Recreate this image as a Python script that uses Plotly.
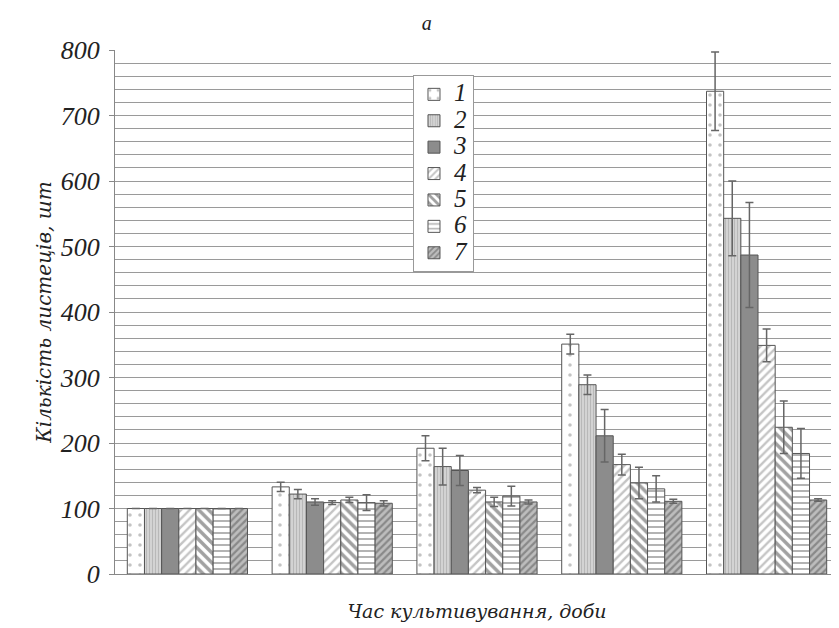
import plotly.graph_objects as go

categories = ["1", "2", "3", "4", "5"]
series_names = ["1", "2", "3", "4", "5", "6", "7"]

# values per series across the 5 time points
s1 = [100, 133, 192, 351, 737]
s2 = [100, 122, 164, 289, 543]
s3 = [100, 110, 158, 211, 487]
s4 = [100, 109, 128, 167, 349]
s5 = [100, 113, 110, 139, 224]
s6 = [100, 109, 119, 130, 184]
s7 = [100, 108, 110, 111, 113]

e1 = [0, 7, 19, 15, 60]
e2 = [0, 7, 28, 15, 57]
e3 = [0, 5, 23, 40, 80]
e4 = [0, 3, 4, 16, 25]
e5 = [0, 4, 7, 24, 40]
e6 = [0, 12, 15, 20, 38]
e7 = [0, 4, 3, 3, 2]

values = [s1, s2, s3, s4, s5, s6, s7]
errors = [e1, e2, e3, e4, e5, e6, e7]

styles = [
    dict(shape=".", bgcolor="white", fgcolor="#888", size=10, solidity=0.1),
    dict(shape="|", bgcolor="#d6d6d6", fgcolor="#9a9a9a", size=3, solidity=0.4),
    dict(shape="", bgcolor="#8c8c8c", fgcolor="#8c8c8c", size=6, solidity=0.5),
    dict(shape="/", bgcolor="white", fgcolor="#8a8a8a", size=6, solidity=0.4),
    dict(shape="\\", bgcolor="white", fgcolor="#444", size=7, solidity=0.5),
    dict(shape="-", bgcolor="white", fgcolor="#555", size=6, solidity=0.3),
    dict(shape="/", bgcolor="#bdbdbd", fgcolor="#555", size=5, solidity=0.45),
]
fills = ["white", "#d6d6d6", "#8c8c8c", "white", "white", "white", "#bdbdbd"]

fig = go.Figure()
for name, v, e, st, fc in zip(series_names, values, errors, styles, fills):
    fig.add_trace(go.Bar(
        x=categories, y=v,
        name='<span style="font-size:25px">' + name + '</span>',
        marker=dict(color=fc, line=dict(color="#555", width=1), pattern=st),
        error_y=dict(type="data", array=e, visible=True, color="#666", thickness=1.5, width=4),
    ))

serif = "Liberation Serif"
cursive = "DejaVu Serif"
fig.update_layout(
    width=831, height=620,
    margin=dict(l=107, r=0, t=42, b=54),
    paper_bgcolor="white", plot_bgcolor="white",
    barmode="group", bargap=0.17, bargroupgap=0,
    title=dict(text="a", x=0.504, xanchor="center", y=0.976, yanchor="middle",
               font=dict(family=serif, size=20, style="italic", color="#222")),
    font=dict(family=serif, color="#222"),
    showlegend=True,
    legend=dict(x=0.4116, y=0.952, xanchor="left", yanchor="top",
                bgcolor="white", bordercolor="#999", borderwidth=1,
                font=dict(family=serif, size=18, style="italic", color="#222"),
                itemwidth=30, tracegroupgap=0),
    xaxis=dict(showticklabels=False, ticks="", showgrid=False,
               showline=True, linecolor="#888", linewidth=1,
               title=dict(text="Час культивування, доби", standoff=30,
                          font=dict(family=cursive, size=19, style="italic", color="#222"))),
    yaxis=dict(range=[0, 800], dtick=100, tick0=0,
               showgrid=True, gridcolor="#9a9a9a", gridwidth=1,
               minor=dict(dtick=20, showgrid=True, gridcolor="#9a9a9a", gridwidth=1),
               showline=True, linecolor="#888", linewidth=1,
               ticks="outside", ticklen=5, tickcolor="#888", ticklabelstandoff=4,
               tickfont=dict(family=serif, size=26, style="italic", color="#222"),
               title=dict(text="Кількість листеців, шт", standoff=2,
                          font=dict(family=cursive, size=20, style="italic", color="#222"))),
)

fig.write_html("out.html")
